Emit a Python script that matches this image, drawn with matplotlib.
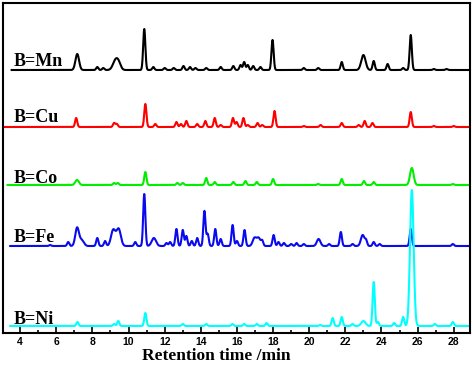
import numpy as np
import matplotlib
matplotlib.use("Agg")
import matplotlib.pyplot as plt
from matplotlib.ticker import MultipleLocator

# ---- data (peak tables) ----
labels = ["B=Mn", "B=Cu", "B=Co", "B=Fe", "B=Ni"]
colors = ["#000000", "#ff0000", "#00ee00", "#0a0aee", "#00ffff"]
offsets = [263, 206, 148, 87, 7]
starts = [3.53, 3.1, 3.3, 3.45, 3.45]

mn_t = [7.16, 8.27, 8.6, 9.27, 9.45, 10.87, 11.37, 12.0, 12.5, 13.04, 13.4, 13.7, 14.3, 15.1,
        15.8, 16.2, 16.4, 16.6, 16.9, 17.3, 17.97, 19.7, 20.5, 21.8, 23.0, 23.57, 24.34, 25.2,
        25.62, 26.9, 27.6]
mn_h = [16, 3, 2, 9, 6, 41, 3, 2, 2, 4, 3, 2, 2, 3,
        4, 5, 8, 5, 4, 3, 30, 2, 2, 8, 15, 9, 6, 2,
        35, 1, 1]

cu_t = [7.1, 9.2, 9.35, 10.93, 11.48, 12.65, 12.9, 13.2, 13.8, 14.25, 14.77, 15.1, 15.78, 15.98,
        16.36, 16.6, 17.14, 17.4, 18.08, 19.7, 20.63, 21.8, 22.74, 23.07, 23.5, 25.62, 26.9, 28.0]
cu_h = [9, 4, 3, 23, 3, 5, 3, 6, 3, 6, 9, 2, 9, 5,
        9, 2, 4, 2, 16, 1, 2, 4, 2, 6, 4, 15, 1, 1]

co_t = [7.15, 9.2, 9.4, 10.93, 12.7, 13.0, 14.3, 14.77, 15.8, 16.47, 17.1, 18.0, 20.5, 21.8,
        23.03, 23.57, 25.68, 27.95]
co_h = [5, 2, 2, 13, 2, 2, 7, 3, 3, 4, 3, 6, 1, 6,
        4, 3, 17, 1]

fe_t = [5.66, 6.66, 7.15, 7.4, 8.27, 8.7, 9.15, 9.45, 10.37, 10.87, 11.4, 12.1, 12.3, 12.65, 13.0,
        13.2, 13.5, 13.8, 14.2, 14.38, 14.8, 15.1, 15.76, 16.0, 16.42, 16.97, 17.2, 17.4, 18.03,
        18.3, 18.6, 19.0, 19.3, 19.7, 20.52, 21.1, 21.75, 22.4, 22.96, 23.15, 23.57, 23.9, 25.62,
        27.95]
fe_h = [1, 4, 18, 6, 8, 5, 16, 17, 4, 52, 8, 3, 4, 17, 16,
        10, 5, 8, 35, 12, 17, 7, 21, 5, 16, 8, 8, 5, 11,
        4, 3, 2, 3, 2, 7, 2, 14, 2, 11, 5, 4, 2, 17,
        2]

ni_t = [7.17, 9.2, 9.43, 10.93, 13.0, 14.3, 15.75, 16.4, 17.1, 17.64, 20.6, 21.3, 21.8, 22.4,
        23.0, 23.57, 23.8, 24.7, 25.2, 25.68, 26.95, 27.95]
ni_h = [4, 2, 5, 13, 2, 2, 2, 2, 2, 3, 1, 8, 9, 2,
        5, 44, 4, 3, 9, 136, 2, 4]

# broader peaks (retention time -> width)
broad = {7.16: 0.1, 9.27: 0.14, 23.0: 0.12, 7.15: 0.1, 9.15: 0.12, 9.45: 0.12, 11.4: 0.12,
         16.97: 0.1, 17.2: 0.1, 20.52: 0.1, 22.96: 0.1, 25.68: 0.1, 7.4: 0.12}

peaks = [(mn_t, mn_h), (cu_t, cu_h), (co_t, co_h), (fe_t, fe_h), (ni_t, ni_h)]

xticks = [4, 6, 8, 10, 12, 14, 16, 18, 20, 22, 24, 26, 28]
xlabel = "Retention time /min"

# ---- figure ----
fig = plt.figure(figsize=(4.72, 3.65), dpi=100)
ax = fig.add_axes([3 / 472, 1 - 333 / 365, 467 / 472, 330 / 365])

for (pt, ph), off, col, st in zip(peaks, offsets, colors, starts):
    t = np.linspace(st, 28.9, 3000)
    y = np.zeros_like(t)
    for ti, hi in zip(pt, ph):
        s = broad.get(ti, 0.06)
        y += hi * np.exp(-0.5 * ((t - ti) / s) ** 2)
    ax.plot(t, y + off, color=col, lw=1.5, solid_joinstyle="round")

label_y = [267, 211, 150, 91, 9]
for lab, ly in zip(labels, label_y):
    ax.text(3.62, ly, lab, family="Liberation Serif", fontweight="bold", fontsize=13,
            va="baseline", ha="left", color="black")

ax.set_xlim(3.05, 28.9)
ax.set_ylim(0, 330)
ax.set_yticks([])
ax.set_xticks(xticks)
ax.xaxis.set_minor_locator(MultipleLocator(1))
ax.tick_params(axis="x", which="major", direction="in", length=4, width=1.2, pad=3,
               labelsize=7.5)
ax.tick_params(axis="x", which="minor", direction="in", length=2.5, width=1.2)
for lbl in ax.get_xticklabels():
    lbl.set_family("Liberation Sans")
    lbl.set_fontweight("bold")
for sp in ax.spines.values():
    sp.set_linewidth(1.5)

fig.text(216 / 472, 1 - 360 / 365, xlabel, family="Liberation Serif", fontweight="bold",
         fontsize=12.5, ha="center", va="baseline")

fig.savefig("out.png", dpi=100)
